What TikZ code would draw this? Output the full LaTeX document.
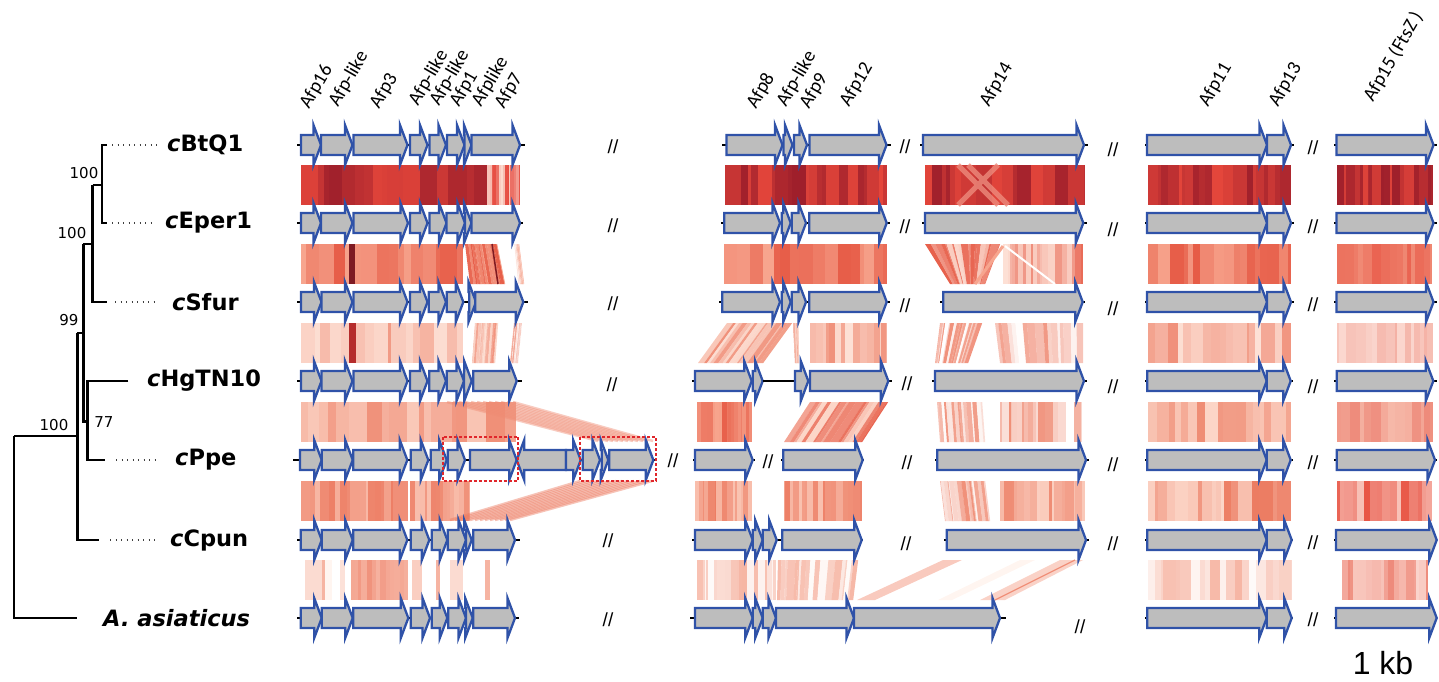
\documentclass[tikz,border=0pt]{standalone}
\usepackage{fontspec}
\setmainfont{Liberation Sans}
\newfontfamily\calfont{Carlito}
\newfontfamily\djv{DejaVu Sans}
\definecolor{genefill}{HTML}{BDBDBD}
\definecolor{geneline}{HTML}{2F52A8}
\definecolor{boxred}{HTML}{E0262B}
\definecolor{r1d}{HTML}{9E1F2B}
\definecolor{r1l}{HTML}{E5463B}
\definecolor{s2d}{HTML}{E65A45}
\definecolor{s2l}{HTML}{F7A58E}
\definecolor{s3d}{HTML}{F0907A}
\definecolor{s3l}{HTML}{FDE1D6}
\definecolor{s4d}{HTML}{EF8C74}
\definecolor{s4l}{HTML}{FCD6C8}
\definecolor{s5d}{HTML}{EC7A60}
\definecolor{s5l}{HTML}{FAC6B5}
\definecolor{s6d}{HTML}{F6B4A2}
\definecolor{s6l}{HTML}{FFF5F0}
\definecolor{e2d}{HTML}{E85A48}
\definecolor{e2l}{HTML}{F08A75}
\definecolor{e3d}{HTML}{F4B0A4}
\definecolor{e3l}{HTML}{FBD8D0}
\definecolor{e4d}{HTML}{EE8A7A}
\definecolor{e4l}{HTML}{F6B8A8}
\definecolor{e5d}{HTML}{E85545}
\definecolor{e5l}{HTML}{F8C5BC}
\definecolor{maroon}{HTML}{7E1A22}
\definecolor{dred}{HTML}{B52C2C}
\tikzset{
 genebox/.style={fill=genefill, draw=geneline, line width=2.3pt, line join=miter},
 backbone/.style={line width=1.6pt, black},
 treeline/.style={line width=2.8pt, black},
 dotline/.style={line width=1.4pt, dash pattern=on 1.3pt off 4.2pt, black!75},
 taxon/.style={font=\djv\fontsize{22.5}{24}\selectfont\bfseries, anchor=west, inner sep=0pt},
 boot/.style={font=\djv\fontsize{15}{17}\selectfont, inner sep=0pt},
 glabel/.style={font=\calfont\fontsize{19.5}{21}\selectfont, rotate=60, anchor=base west, inner sep=0pt},
 brkmark/.style={font=\fontsize{19}{20}\selectfont, inner sep=0pt},
 dbox/.style={draw=boxred, line width=1.8pt, dash pattern=on 3pt off 2pt},
 xline/.style={line width=2.5pt, opacity=.45},
}
\newcommand\gn[3]{\draw[genebox] (#1,{#3-10}) -- ({#2-7.5},{#3-10}) -- ({#2-7.5},{#3-20}) -- (#2,#3) -- ({#2-7.5},{#3+20}) -- ({#2-7.5},{#3+10}) -- (#1,{#3+10}) -- cycle;}
\newcommand\rgn[3]{\draw[genebox] (#2,{#3-10}) -- ({#1+7.5},{#3-10}) -- ({#1+7.5},{#3-20}) -- (#1,#3) -- ({#1+7.5},{#3+20}) -- ({#1+7.5},{#3+10}) -- (#2,{#3+10}) -- cycle;}
\newcommand\sbd[7]{%
 \def\bt{0}%
 \loop
  \pgfmathsetmacro\bte{min(\bt+0.015+rnd*0.09,1)}%
  \pgfmathtruncatemacro\bp{rnd*100}%
  \fill[#6!\bp!#7] ({#1+\bt*(#2-#1)},#5) -- ({#1+\bte*(#2-#1)+0.2},#5) -- ({#3+\bte*(#4-#3)+0.2},{#5+40}) -- ({#3+\bt*(#4-#3)},{#5+40}) -- cycle;%
  \let\bt\bte
 \ifdim\bte pt<0.999pt\repeat
}
\begin{document}
\begin{tikzpicture}[x=1pt,y=-1pt]
\pgfmathsetseed{7}
\useasboundingbox (0,0) rectangle (1439,681);
% ===== bands =====
% band 1
\sbd{301}{487}{301}{487}{165}{r1d}{r1l}
\sbd{487}{520}{487}{520}{165}{r1l}{s3l}
\sbd{725}{887}{725}{887}{165}{r1d}{r1l}
\sbd{925}{1084}{925}{1084}{165}{r1d}{r1l}
\draw[line width=5pt, s2d!70!white, opacity=.8] (958,165)--(998,205) (998,165)--(958,205) (968,165)--(1008,205);
\sbd{1148}{1291}{1148}{1291}{165}{r1d}{r1l}
\sbd{1337}{1433}{1337}{1433}{165}{r1d}{r1l}
% band 2
\sbd{301}{463}{301}{463}{244}{s2d}{s2l}
\fill[maroon] (349,244) rectangle (355,284);
\sbd{465}{497}{470}{505}{244}{s2d}{s2l}
\draw[maroon, line width=1.5pt] (492,244)--(498,284);
\sbd{514}{519}{518}{524}{244}{s2l}{white}
\sbd{724}{887}{724}{887}{244}{s2d}{s2l}
\sbd{925}{1000}{950}{985}{244}{s2d}{s3l}
\sbd{1003}{1083}{1003}{1083}{244}{s2d}{s3l}
\draw[white, line width=2pt] (1005,246)--(1055,284);
\draw[s2l, line width=3pt] (1003,246)--(975,284);
\sbd{1148}{1291}{1148}{1291}{244}{s2d}{s2l}
\sbd{1337}{1432}{1337}{1432}{244}{e2d}{e2l}
% band 3
\sbd{301}{463}{301}{463}{323}{s3d}{s3l}
\fill[dred] (349,323) rectangle (356,363);
\sbd{475}{498}{472}{495}{323}{s3d}{s3l}
\sbd{514}{522}{510}{518}{323}{s3d}{white}
\sbd{727}{792}{698}{763}{323}{s3d}{s3l}
\sbd{793}{798}{795}{799}{323}{s3d}{s3l}
\sbd{810}{887}{810}{887}{323}{s3d}{s3l}
\sbd{940}{982}{935}{968}{323}{s3d}{white}
\sbd{995}{1083}{1000}{1083}{323}{s3d}{white}
\sbd{1148}{1291}{1148}{1291}{323}{s3d}{s3l}
\sbd{1337}{1433}{1337}{1433}{323}{e3d}{e3l}
% band 4
\sbd{301}{516}{301}{516}{402}{s4d}{s4l}
\foreach \i in {0,...,11}{\draw[xline, s4d] ({447+6*\i},402) -- ({598+5*\i},441);}
\sbd{697}{752}{697}{752}{402}{s2d}{s2l}
\sbd{810}{888}{784}{862}{402}{s2d}{s4l}
\sbd{937}{982}{940}{985}{402}{s4d}{white}
\sbd{1000}{1082}{1000}{1082}{402}{s4d}{white}
\sbd{1148}{1291}{1148}{1291}{402}{s4d}{s4l}
\sbd{1337}{1433}{1337}{1433}{402}{e4d}{e4l}
% band 5
\sbd{301}{408}{301}{408}{481}{s5d}{s5l}
\sbd{410}{470}{410}{470}{481}{s5d}{s5l}
\foreach \i in {0,...,12}{\draw[xline, s5d] ({580+6*\i},481) -- ({450+5*\i},520);}
\sbd{695}{752}{695}{752}{481}{s5d}{s5l}
\sbd{784}{862}{784}{862}{481}{s5d}{s5l}
\sbd{940}{985}{945}{990}{481}{s4d}{white}
\sbd{1000}{1085}{1000}{1085}{481}{s4d}{s4l}
\sbd{1148}{1291}{1148}{1291}{481}{s5d}{s4l}
\sbd{1337}{1432}{1337}{1432}{481}{e5d}{e5l}
% band 6
\fill[s6l!60!s6d] (305,560) rectangle (323,600);
\fill[s6d] (322,560) rectangle (325,600);
\fill[s6l] (325,560) rectangle (332,600);
\fill[s6l!70!s6d] (340,560) rectangle (345,600);
\sbd{351}{408}{351}{408}{560}{s3d}{s6d}
\fill[s6l!40!s6d] (412,560) rectangle (422,600);
\fill[s6d] (436,560) rectangle (440,600);
\fill[s6l!60!s6d] (450,560) rectangle (463,600);
\fill[s6d] (485,560) rectangle (490,600);
\sbd{697}{776}{697}{776}{560}{s6d}{white}
\sbd{778}{858}{777}{853}{560}{s6d}{white}
\fill[s6d!70!white] (943,560)--(962,560)--(875,600)--(857,600)--cycle;
\fill[s6l] (1020,560)--(1035,560)--(952,600)--(938,600)--cycle;
\fill[s6d!60!white] (1060,560)--(1083,560)--(1005,600)--(980,600)--cycle;
\draw[s3d, line width=1.2pt] (1075,560)--(995,600);
\sbd{1148}{1291}{1148}{1291}{560}{s6d}{white}
\sbd{1342}{1428}{1342}{1428}{560}{e4d}{e3l}
% ===== backbones =====
\draw[backbone] (297,145)--(525,145) (722,145)--(891,145) (920,145)--(1088,145) (1145,145)--(1294,145) (1334,145)--(1437,145);
\draw[backbone] (297,223)--(523,223) (721,223)--(890,223) (922,223)--(1087,223) (1145,223)--(1294,223) (1334,223)--(1437,223);
\draw[backbone] (297,302)--(528,302) (719,302)--(890,302) (940,302)--(1085,302) (1145,302)--(1294,302) (1334,302)--(1437,302);
\draw[backbone] (297,381)--(522,381) (692,381)--(892,381) (932,381)--(1087,381) (1145,381)--(1293,381) (1334,381)--(1437,381);
\draw[backbone] (293,460)--(657,460) (693,460)--(755,460) (781,460)--(864,460) (935,460)--(1089,460) (1145,460)--(1293,460) (1334,460)--(1437,460);
\draw[backbone] (297,540)--(520,540) (692,540)--(863,540) (944,540)--(1089,540) (1145,540)--(1293,540) (1334,540)--(1437,540);
\draw[backbone] (297,618)--(519,618) (690,618)--(1006,618) (1145,618)--(1293,618) (1334,618)--(1437,618);
% ===== genes =====
% row 1
\gn{301}{321}{145}\gn{321}{352.5}{145}\gn{353.5}{407.5}{145}\gn{410}{427.5}{145}\gn{429.5}{446}{145}\gn{447}{464.5}{145}\gn{464.5}{471.5}{145}\gn{471.5}{520}{145}
\gn{726.5}{782.5}{145}\gn{783.5}{792.5}{145}\gn{794}{807}{145}\gn{809.5}{886.5}{145}
\gn{923}{1084}{145}
\gn{1147}{1267}{145}\gn{1267}{1291}{145}
\gn{1336.5}{1433.5}{145}
% row 2
\gn{301}{321}{223}\gn{321}{352.5}{223}\gn{353.5}{408}{223}\gn{410}{427.5}{223}\gn{429.5}{446.5}{223}\gn{446.5}{465}{223}\gn{465}{471.5}{223}\gn{471.5}{520}{223}
\gn{724.3}{780}{223}\gn{781.7}{790.7}{223}\gn{791.7}{806}{223}\gn{809.3}{886.7}{223}
\gn{925}{1083.3}{223}
\gn{1147}{1267}{223}\gn{1267}{1291}{223}
\gn{1336.5}{1433.5}{223}
% row 3
\gn{301}{321.5}{302}\gn{321.5}{352.5}{302}\gn{353.5}{407.5}{302}\gn{410}{427.5}{302}\gn{428.7}{446}{302}\gn{446.7}{463.3}{302}\gn{469.3}{476}{302}\gn{475.3}{523.3}{302}
\gn{722.3}{780}{302}\gn{781.7}{790.7}{302}\gn{791.7}{806}{302}\gn{809.3}{886.7}{302}
\gn{943.3}{1082.7}{302}
\gn{1147}{1267}{302}\gn{1267}{1291}{302}
\gn{1336.5}{1433.5}{302}
% row 4
\gn{301}{321.5}{381}\gn{321.5}{352.5}{381}\gn{353.5}{407.5}{381}\gn{410}{427.5}{381}\gn{429.3}{446}{381}\gn{446.7}{464}{381}\gn{464}{471.7}{381}\gn{473.3}{516.7}{381}
\gn{695}{751.7}{381}\gn{752.7}{762.7}{381}
\draw[line width=2pt] (762.7,381)--(795,381);
\gn{795}{808.3}{381}\gn{810}{888.3}{381}
\gn{935}{1084}{381}
\gn{1147.3}{1266.7}{381}\gn{1266.7}{1290.7}{381}
\gn{1336.7}{1433.3}{381}
% row 5
\gn{300}{321.7}{460}\gn{321.7}{352.7}{460}\gn{353.3}{407.3}{460}\gn{410.7}{428.3}{460}\gn{430.7}{446.7}{460}\gn{447.7}{465}{460}\gn{470}{516.7}{460}
\rgn{516.7}{566}{460}
\gn{566}{580.7}{460}\gn{582.7}{600}{460}\gn{601.7}{608.3}{460}\gn{609.3}{653.3}{460}
\gn{695}{752.7}{460}
\gn{783.3}{862.7}{460}
\gn{937.3}{1086}{460}
\gn{1147.3}{1266.7}{460}\gn{1266.7}{1290.7}{460}
\gn{1336.7}{1435}{460}
\draw[dbox] (442.7,436.7) rectangle (518.3,480.7);
\draw[dbox] (580,436.7) rectangle (656,480.7);
% row 6
\gn{300.7}{321.7}{540}\gn{321.7}{352.7}{540}\gn{353.3}{407.3}{540}\gn{410.7}{429.3}{540}\gn{431.7}{447.3}{540}\gn{447.7}{466}{540}\gn{466}{471.7}{540}\gn{473.3}{515}{540}
\gn{695}{752.7}{540}\gn{752.7}{762.7}{540}\gn{762.7}{776.7}{540}\gn{782.3}{861.7}{540}
\gn{946.7}{1086}{540}
\gn{1147.3}{1266.7}{540}\gn{1266.7}{1291.7}{540}
\gn{1336}{1436.7}{540}
% row 7
\gn{300.7}{321.7}{618}\gn{321.7}{352.7}{618}\gn{353.3}{408.3}{618}\gn{410.7}{430}{618}\gn{431.7}{447.3}{618}\gn{448.3}{466}{618}\gn{466}{472.7}{618}\gn{473.3}{515}{618}
\gn{695}{752.7}{618}\gn{752.7}{762.7}{618}\gn{762.7}{776}{618}\gn{776}{854}{618}\gn{854}{1000}{618}
\gn{1147.3}{1266.7}{618}\gn{1266.7}{1291.7}{618}
\gn{1336}{1436.7}{618}
% ===== break marks =====
\foreach \p/\q [count=\k] in {613/147,905/147,1113/150,1313/148,
 613/226,905/227,1113/230,1313/227,
 613/304,905/306,1113/309,1313/305,
 612/385,907/384,1113/387,1313/387,
 673/461,768/462,907/463,1113/465,1313/463,
 608/541,906/544,1113/544,1313/543,
 608/620,1080/627,1313/620}
 {\node[brkmark] (brk\k) at (\p,\q) {//};}
% ===== gene labels =====
\node[glabel] (l1) at (309,110) {Afp16};
\node[glabel] (l2) at (338,108) {Afp-like};
\node[glabel] (l3) at (379,110) {Afp3};
\node[glabel] (l4) at (418,107) {Afp-like};
\node[glabel] (l5) at (439,107) {Afp-like};
\node[glabel] (l6) at (459,108) {Afp1};
\node[glabel] (l7) at (481,108) {Afplike};
\node[glabel] (l8) at (504,110) {Afp7};
\node[glabel] (l9) at (756,110) {Afp8};
\node[glabel] (l10) at (786,108) {Afp-like};
\node[glabel] (l11) at (809,110) {Afp9};
\node[glabel] (l12) at (849,108) {Afp12};
\node[glabel] (l13) at (989,108) {Afp14};
\node[glabel] (l14) at (1208,108) {Afp11};
\node[glabel] (l15) at (1278,108) {Afp13};
\node[glabel] (l16) at (1373,103) {Afp15 (FtsZ )};
% ===== tree =====
\draw[treeline] (107,145)--(102,145)--(102,223)--(107,223);
\draw[treeline] (92.7,185)--(102,185);
\draw[treeline] (106.7,302)--(92.7,302)--(92.7,185);
\draw[treeline] (83.3,244)--(92.7,244);
\draw[treeline] (83.3,244)--(83.3,421.7)--(87.7,421.7);
\draw[treeline] (128.3,381)--(87.7,381)--(87.7,460)--(105,460);
\draw[treeline] (77.3,333)--(83.3,333);
\draw[treeline] (77.3,333)--(77.3,540)--(99.3,540);
\draw[treeline] (14,436)--(77.3,436);
\draw[treeline] (14,436)--(14,618)--(77.3,618);
\draw[dotline] (112,145)--(158,145);
\draw[dotline] (112,223)--(155,223);
\draw[dotline] (115,302)--(158,302);
\draw[dotline] (116,460)--(158,460);
\draw[dotline] (110,540)--(155,540);
\node[taxon] (t1) at (167,145) {\textit{c}BtQ1};
\node[taxon] (t2) at (165,223) {\textit{c}Eper1};
\node[taxon] (t3) at (172,302) {\textit{c}Sfur};
\node[taxon] (t4) at (147,381) {\textit{c}HgTN10};
\node[taxon] (t5) at (175,460) {\textit{c}Ppe};
\node[taxon] (t6) at (170,540) {\textit{c}Cpun};
\node[taxon] (t7) at (103,618) {\textit{A. asiaticus}};
\node[boot] (b1) at (84,173) {100};
\node[boot] (b2) at (72,233) {100};
\node[boot] (b3) at (69,320) {99};
\node[boot] (b4) at (104,422) {77};
\node[boot] (b5) at (54,425) {100};
% scale
\node[font=\fontsize{32}{34}\selectfont, inner sep=0pt] (kb) at (1383,663) {1 kb};
\end{tikzpicture}
\end{document}
